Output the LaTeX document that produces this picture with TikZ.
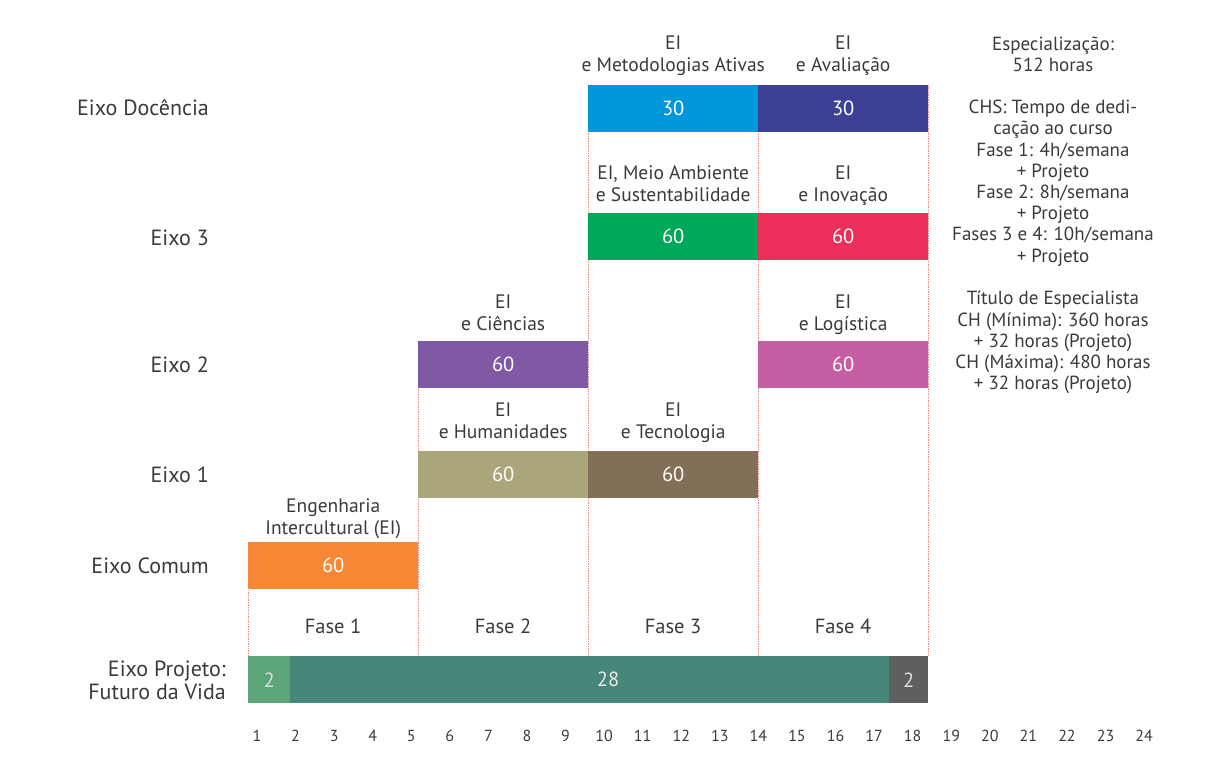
\documentclass[tikz,border=0pt]{standalone}
\usepackage{fontspec}
\setmainfont{PT Sans}
\definecolor{txt}{HTML}{3A3A3A}
\definecolor{cDocA}{HTML}{0098DA}
\definecolor{cDocB}{HTML}{3E4095}
\definecolor{cTresA}{HTML}{00A859}
\definecolor{cTresB}{HTML}{EC2F5A}
\definecolor{cDoisA}{HTML}{8059A4}
\definecolor{cDoisB}{HTML}{C55EA2}
\definecolor{cUmA}{HTML}{AAA57A}
\definecolor{cUmB}{HTML}{826F57}
\definecolor{cCom}{HTML}{F58735}
\definecolor{cPA}{HTML}{5BA579}
\definecolor{cPB}{HTML}{46877A}
\definecolor{cPC}{HTML}{5F5E60}
\definecolor{dotc}{HTML}{F08A8A}
\tikzset{
  bar/.style={anchor=north west, inner sep=0pt, minimum width=170pt, minimum height=47pt,
    text=white, font=\fontsize{20.5}{24}\selectfont},
  lab/.style={anchor=south, inner sep=0pt, text depth=0pt, align=center, text=txt, font=\fontsize{19.5}{22}\selectfont},
  rowlab/.style={anchor=east, inner sep=0pt, align=right, text=txt, font=\fontsize{22}{23}\selectfont},
  fase/.style={inner sep=0pt, text=txt, font=\fontsize{20.5}{24}\selectfont},
  axnum/.style={inner sep=0pt, text=txt, font=\fontsize{16}{20}\selectfont},
  side/.style={anchor=north, inner sep=0pt, align=center, text=txt, font=\fontsize{19}{21.2}\selectfont},
  guide/.style={dotc, densely dotted, line width=0.7pt}
}
\begin{document}
\begin{tikzpicture}[x=1pt,y=-1pt]
\useasboundingbox (0,0) rectangle (1208,780);
% guides
\coordinate (g1t) at (248,590); \coordinate (g1b) at (248,656);
\coordinate (g2t) at (418,341); \coordinate (g2b) at (418,656);
\coordinate (g3t) at (588,85);  \coordinate (g3b) at (588,656);
\coordinate (g4t) at (758,85);  \coordinate (g4b) at (758,656);
\coordinate (g5t) at (928,85);  \coordinate (g5b) at (928,656);
\draw[guide] (g1t) -- (g1b);
\draw[guide] (g2t) -- (g2b);
\draw[guide] (g3t) -- (g3b);
\draw[guide] (g4t) -- (g4b);
\draw[guide] (g5t) -- (g5b);
% row labels
\node[rowlab] (rDoc) at (209,108) {Eixo Docência};
\node[rowlab] (r3) at (209,238) {Eixo 3};
\node[rowlab] (r2) at (209,365) {Eixo 2};
\node[rowlab] (r1) at (209,475) {Eixo 1};
\node[rowlab] (rC) at (209,566) {Eixo Comum};
\node[rowlab] (rP) at (226,680) {Eixo Projeto:\\Futuro da Vida};
% bars
\node[bar, fill=cDocA] (dA) at (588,85) {30};
\node[bar, fill=cDocB] (dB) at (758,85) {30};
\node[bar, fill=cTresA] (tA) at (588,213) {60};
\node[bar, fill=cTresB] (tB) at (758,213) {60};
\node[bar, fill=cDoisA] (sA) at (418,341) {60};
\node[bar, fill=cDoisB] (sB) at (758,341) {60};
\node[bar, fill=cUmA] (uA) at (418,451) {60};
\node[bar, fill=cUmB] (uB) at (588,451) {60};
\node[bar, fill=cCom] (cc) at (248,542) {60};
\node[bar, fill=cPA, minimum width=42pt, text=white!88!black] (pA) at (248,656) {2};
\node[bar, fill=cPB, minimum width=599pt] (pB) at (290,656) {};
\node[bar, fill=cPC, minimum width=39pt, text=white!88!black] (pC) at (889,656) {2};
\node[inner sep=0pt, text=white!92!black, font=\fontsize{20.5}{24}\selectfont] (pBt) at (608,679.5) {28};
% labels above bars
\node[lab] (ldA) at ([yshift=13pt]dA.north) {EI\\e Metodologias Ativas};
\node[lab] (ldB) at ([yshift=13pt]dB.north) {EI\\e Avaliação};
\node[lab] (ltA) at ([yshift=11pt]tA.north) {EI, Meio Ambiente\\e Sustentabilidade};
\node[lab] (ltB) at ([yshift=11pt]tB.north) {EI\\e Inovação};
\node[lab] (lsA) at ([yshift=10.5pt]sA.north) {EI\\e Ciências};
\node[lab] (lsB) at ([yshift=10.5pt]sB.north) {EI\\e Logística};
\node[lab] (luA) at ([yshift=12pt]uA.north) {EI\\e Humanidades};
\node[lab] (luB) at ([yshift=12pt]uB.north) {EI\\e Tecnologia};
\node[lab] (lcc) at ([yshift=7pt]cc.north) {Engenharia\\Intercultural (EI)};
% phases
\node[fase] (f1) at (333,626) {Fase 1};
\node[fase] (f2) at (503,626) {Fase 2};
\node[fase] (f3) at (673,626) {Fase 3};
\node[fase] (f4) at (843,626) {Fase 4};
% axis numbers
\foreach \i in {1,...,24} {
  \node[axnum] (n\i) at ({257+(\i-1)*38.57},736) {\i};
}
% side text
\node[side] (s1) at (1053,37) {Especialização:\\512 horas};
\node[side] (s2) at (1053,100) {CHS: Tempo de dedi-\\cação ao curso\\Fase 1: 4h/semana\\+ Projeto\\Fase 2: 8h/semana\\+ Projeto\\Fases 3 e 4: 10h/semana\\+ Projeto};
\node[side] (s3) at (1053,291) {Título de Especialista\\CH (Mínima): 360 horas\\+ 32 horas (Projeto)\\CH (Máxima): 480 horas\\+ 32 horas (Projeto)};
\end{tikzpicture}
\end{document}
